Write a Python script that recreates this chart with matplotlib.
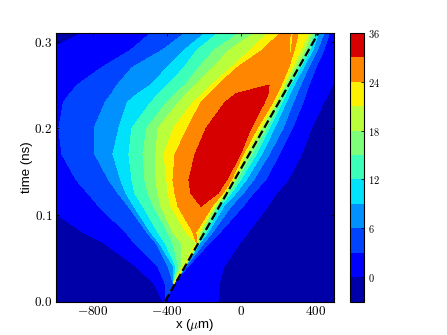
import matplotlib
matplotlib.use('Agg')
import matplotlib.pyplot as plt
import numpy as np

plt.rcParams['mathtext.fontset'] = 'cm'
plt.rcParams['font.family'] = 'Liberation Sans'

# time rows (ns)
t_rows = [0, .02, .04, .068, .08, .11, .125, .14, .17, .20, .23, .24, .25, .27, .29, .31]

# x position (um) of each contour in every time row
# left flank of the hot region
l_edge = [-1200] * 16
l_0 = [-425, -470, -565, -745, -855, -1060, -1100, -1100, -1100, -1100, -1100, -1100, -1100, -1100, -1040, -860]
l_3 = [-412, -410, -450, -580, -625, -770, -828, -890, -968, -985, -960, -925, -885, -755, -600, -488]
l_6 = [-412, -366, -395, -462, -510, -610, -665, -715, -790, -795, -735, -700, -670, -590, -429, -304]
l_9 = [-412, -366, -364, -445, -490, -580, -623, -650, -693, -661, -615, -560, -488, -402, -310, -196]
l_12 = [-412, -366, -352, -412, -450, -531, -575, -590, -607, -591, -488, -445, -396, -310, -240, -126]
l_15 = [-412, -366, -338, -370, -396, -472, -504, -520, -531, -510, -402, -353, -304, -229, -148, -12]
l_18 = [-412, -366, -325, -325, -369, -434, -450, -461, -461, -450, -337, -293, -245, -153, -66, 70]
l_21 = [-412, -366, -312, -243, -299, -380, -396, -402, -418, -365, -261, -207, -160, -55, 47, 145]
l_24 = [-412, -366, -312, -243, -261, -342, -358, -369, -358, -290, -218, -169, -126, -23, 112, 210]
l_30 = [-412, -366, -312, -243, -252, -218, -272, -283, -250, -190, -88, -29, 150, 150, 180, 250]
peak = [-412, -366, -312, -243, -252, -218, -200, -170, -120, -75, 25, 60, 150, 150, 180, 250]
# right flank, along the dashed front
r_30 = [-412, -366, -312, -243, -252, -218, -126, -80, -5, 52, 125, 145, 150, 150, 180, 250]
s_1 = [-412, -366, -312, -243, -245, -158, -100, -55, 10, 85, 170, 192, 215, 255, 255, 255]
s_2 = [-412, -366, -312, -243, -245, -158, -100, -55, 10, 85, 170, 192, 215, 255, 265, 272]
s_3 = [-412, -366, -312, -243, -245, -158, -100, -55, 10, 85, 170, 192, 215, 255, 275, 288]
r_24 = [-412, -366, -312, -243, -245, -158, -100, -55, 10, 85, 170, 192, 215, 255, 285, 307]
r_21 = [-412, -366, -310, -243, -229, -148, -92, -47, 22, 100, 182, 205, 228, 272, 320, 362]
r_18 = [-412, -366, -308, -234, -218, -138, -84, -38, 35, 112, 193, 215, 238, 288, 340, 378]
r_15 = [-412, -366, -307, -230, -207, -128, -72, -25, 55, 135, 204, 227, 250, 302, 355, 392]
r_12 = [-412, -366, -306, -226, -190, -115, -55, -5, 80, 150, 220, 242, 265, 318, 370, 405]
r_9 = [-412, -366, -305, -222, -178, -95, -30, 25, 110, 178, 242, 263, 285, 335, 385, 418]
r_6 = [-412, -366, -300, -200, -155, -55, 10, 65, 150, 225, 280, 300, 320, 362, 410, 445]
r_3 = [-412, -364, -289, -170, -115, 10, 65, 130, 205, 275, 333, 348, 365, 402, 445, 475]
r_0 = [-126, -120, -95, -6, 38, 142, 190, 250, 325, 378, 445, 470, 490, 540, 580, 600]
r_edge = [700] * 16

columns = [l_edge, l_0, l_3, l_6, l_9, l_12, l_15, l_18, l_21, l_24, l_30, peak,
           r_30, s_1, s_2, s_3, r_24, r_21, r_18, r_15, r_12, r_9, r_6, r_3, r_0, r_edge]
# value carried by each column
col_values = [-2, 0, 3, 6, 9, 12, 15, 18, 21, 24, 30, 33,
              30, 26, 22, 26, 24, 21, 18, 15, 12, 9, 6, 3, 0, -2]

levels = [-3, 0, 3, 6, 9, 12, 15, 18, 21, 24, 30, 36]
cbar_ticks = [0, 6, 12, 18, 24, 36]
x_ticks = [-800, -400, 0, 400]
t_ticks = [0.0, 0.1, 0.2, 0.3]
front_x = [-412, 416]
front_t = [0, 0.31]

X = np.array(columns).T
T = np.array([t_rows] * len(columns)).T
Z = np.array([col_values] * len(t_rows))

fig = plt.figure(figsize=(4.47, 3.35), dpi=100)
ax = fig.add_axes([56 / 447, 1 - 301.5 / 335, 278 / 447, 268.5 / 335])
cs = ax.contourf(X, T, Z, levels=levels, cmap='jet')
ax.plot(front_x, front_t, color='k', ls='--', lw=1.6)
ax.set_xlim(-1000, 500)
ax.set_ylim(0, 0.31)

ax.set_xticks(x_ticks)
ax.set_xticklabels(['$%d$' % v for v in x_ticks], fontsize=9.5)
ax.set_yticks(t_ticks)
ax.set_yticklabels(['$%.1f$' % v for v in t_ticks], fontsize=9.5)
ax.tick_params(direction='in', top=True, right=True, length=2.5, width=0.6, pad=2.5)
ax.set_xlabel(r'x ($\mu$m)', fontsize=9.5, labelpad=-1)
ax.set_ylabel('time (ns)', fontsize=9.5, labelpad=1)

cax = fig.add_axes([350 / 447, 1 - 301.5 / 335, 14 / 447, 268.5 / 335])
cb = fig.colorbar(cs, cax=cax, ticks=cbar_ticks, spacing='uniform')
cb.ax.set_yticklabels(['$%d$' % v for v in cbar_ticks], fontsize=7.5)
cb.ax.tick_params(direction='in', length=2.5, width=0.6, pad=3)

fig.savefig('out.png', dpi=100)
